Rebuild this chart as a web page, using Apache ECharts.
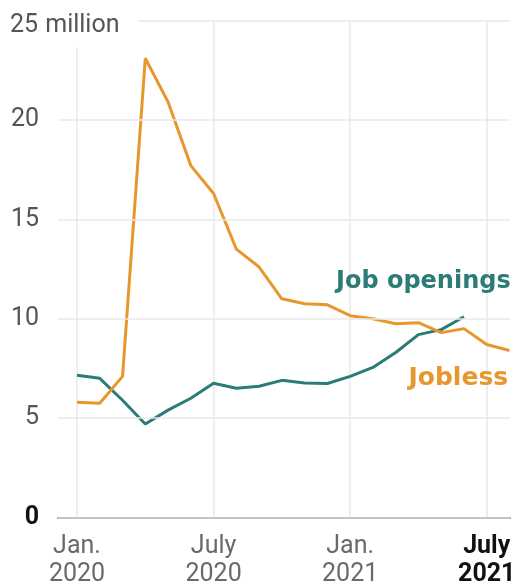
<!DOCTYPE html>
<html>
<head>
<meta charset="utf-8">
<script src="https://cdn.jsdelivr.net/npm/echarts@6/dist/echarts.min.js"></script>
<style>
  html, body { margin: 0; padding: 0; background: #fff; }
  #chart { width: 518px; height: 584px; }
</style>
</head>
<body>
<div id="chart"></div>
<script>
// months Jan. 2020 .. Aug. 2021, x = month index
var months = ['2020-01', '2020-02', '2020-03', '2020-04', '2020-05', '2020-06', '2020-07', '2020-08',
  '2020-09', '2020-10', '2020-11', '2020-12', '2021-01', '2021-02', '2021-03', '2021-04',
  '2021-05', '2021-06', '2021-07', '2021-08']
// millions
var jobless = [5.8, 5.75, 7.1, 23.1, 20.9, 17.7, 16.3, 13.5, 12.6, 11.0, 10.75, 10.7,
  10.15, 10.0, 9.75, 9.8, 9.3, 9.5, 8.7, 8.4]
var jobOpenings = [7.15, 7.0, 5.9, 4.7, 5.4, 6.0, 6.75, 6.5, 6.6, 6.9, 6.77, 6.74,
  7.1, 7.55, 8.3, 9.2, 9.45, 10.1]
var yTicks = [0, 5, 10, 15, 20, 25]
var xTickLabels = { 0: ['Jan.', '2020'], 6: ['July', '2020'], 12: ['Jan.', '2021'], 18: ['July', '2021'] }

var orange = '#e8972c'
var teal = '#2b7c77'
var font = 'Roboto'
var gridColor = '#e9e9e9'

function pairs (arr) {
  return arr.map(function (v, i) { return [i, v] })
}

var myChart = echarts.init(document.getElementById('chart'))
myChart.setOption({
  animation: false,
  grid: [
    { left: 58, right: 8, top: 20.5, bottom: 66.5, outerBoundsMode: 'none' },   // horizontal grid + y labels
    { left: 77, right: 8.5, top: 20.5, bottom: 66.5, outerBoundsMode: 'none' }  // data + x labels
  ],
  xAxis: [
    {
      gridIndex: 0, type: 'value', min: 0, max: 1,
      axisLine: { show: true, lineStyle: { color: '#222', width: 1.5 } },
      axisTick: { show: false }, axisLabel: { show: false }, splitLine: { show: false }
    },
    {
      gridIndex: 1, type: 'value', min: 0, max: 19, interval: 6,
      axisLine: { show: false }, axisTick: { show: false },
      axisLabel: {
        margin: 15, lineHeight: 28, fontFamily: font, fontSize: 25, color: '#6a6a6a',
        formatter: function (v) {
          var l = xTickLabels[v]
          if (!l) return ''
          if (v === 18) return '{b|' + l[0] + '}\n{b|' + l[1] + '}'
          return l[0] + '\n' + l[1]
        },
        rich: { b: { fontFamily: font, fontSize: 25, fontWeight: 'bold', color: '#111', lineHeight: 28 } }
      },
      // no split line at the right edge (the max tick)
      splitLine: { show: true, lineStyle: { color: [gridColor, gridColor, gridColor, gridColor, 'rgba(0,0,0,0)'], width: 1.5 } }
    }
  ],
  yAxis: [
    {
      gridIndex: 0, type: 'value', min: 0, max: 25, interval: 5, z: 5,
      axisLine: { show: false }, axisTick: { show: false },
      axisLabel: {
        align: 'left', margin: 49, fontFamily: font, fontSize: 25, color: '#555',
        formatter: function (v) {
          if (v === 0) return '{z|0}'
          if (v === 25) return '{t|25}{u| million}'
          return '{n|' + v + '}'
        },
        rich: {
          n: { width: 30, align: 'right', fontFamily: font, fontSize: 25, color: '#555' },
          t: { width: 30, align: 'right', fontFamily: font, fontSize: 25, color: '#555', padding: [19, 0, 9, 0] },
          z: { width: 30, align: 'right', fontFamily: font, fontSize: 25, color: '#111', fontWeight: 'bold' },
          u: { fontFamily: font, fontSize: 25, color: '#555', backgroundColor: '#fff', padding: [19, 19, 9, 0] }
        }
      },
      splitLine: { show: true, lineStyle: { color: gridColor, width: 1.5 } }
    },
    {
      gridIndex: 1, type: 'value', min: 0, max: 25, interval: 5, show: false
    }
  ],
  series: [
    {
      name: 'Job openings',
      type: 'line',
      xAxisIndex: 1, yAxisIndex: 1,
      data: pairs(jobOpenings),
      showSymbol: false,
      lineStyle: { color: teal, width: 3 },
      itemStyle: { color: teal },
      endLabel: {
        show: true, formatter: 'Job openings', distance: 0,
        align: 'left', verticalAlign: 'middle', offset: [-128, -35],
        fontFamily: 'DejaVu Sans', fontWeight: 'bold', fontSize: 24, color: teal
      }
    },
    {
      name: 'Jobless',
      type: 'line',
      xAxisIndex: 1, yAxisIndex: 1,
      data: pairs(jobless),
      showSymbol: false,
      lineStyle: { color: orange, width: 3 },
      itemStyle: { color: orange },
      endLabel: {
        show: true, formatter: 'Jobless', distance: 0,
        align: 'left', verticalAlign: 'middle', offset: [-101, 28],
        fontFamily: 'DejaVu Sans', fontWeight: 'bold', fontSize: 25, color: orange
      }
    }
  ]
})
</script>
</body>
</html>
